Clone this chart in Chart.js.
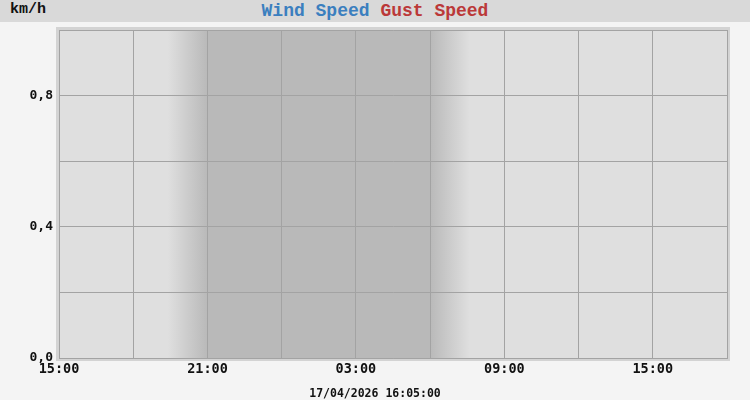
<!DOCTYPE html>
<html>
<head>
<meta charset="utf-8">
<script src="https://cdn.jsdelivr.net/npm/chart.js@4.4.1/dist/chart.umd.min.js"></script>
<style>
  html, body { margin: 0; padding: 0; background: #f4f4f4; }
  #wrap { position: relative; width: 750px; height: 400px; overflow: hidden; }
  #topbar { position: absolute; left: 0; top: 0; width: 750px; height: 22px; background: #d9d9d9; }
  #unit { position: absolute; left: 10px; top: 1px; font: bold 15px "Liberation Mono", "DejaVu Sans Mono", monospace; color: #111; line-height: 18px; }
  #title { position: absolute; left: 0; width: 750px; top: 1px; text-align: center; font: bold 18px "Liberation Mono", "DejaVu Sans Mono", monospace; line-height: 20px; }
  #footer { position: absolute; left: 0; width: 750px; top: 386px; text-align: center; font: bold 11.5px "DejaVu Sans Mono", monospace; color: #111; line-height: 14px; }
  #chartBox { position: absolute; left: 0; top: 0; width: 750px; height: 400px; }
</style>
</head>
<body>
<div id="wrap">
  <div id="topbar">
    <div id="unit">km/h</div>
    <div id="title"><span id="t1" style="color:#3b7fbf">Wind Speed</span> <span id="t2" style="color:#bb3838">Gust Speed</span></div>
  </div>
  <div id="chartBox"><canvas id="c"></canvas></div>
  <div id="footer">17/04/2026 16:05:00</div>
</div>
<script>
// ---- data ----
const seriesNames = ['Wind Speed', 'Gust Speed'];
const seriesColors = ['#3b7fbf', '#bb3838'];
const windSpeed = [];   // no readings shown in the reference
const gustSpeed = [];   // no readings shown in the reference
// x axis: hours since 15:00 on the first day
const xTickLabels = ['15:00','18:00','21:00','00:00','03:00','06:00','09:00','12:00','15:00','18:00'];
const xMin = 0, xMax = 27, xStep = 3;
const yMin = 0, yMax = 1.0, yStep = 0.2;
const yLabelled = [0, 0.4, 0.8];
// night (hours since 15:00): 21:00 -> 06:00, with twilight fades
const nightStart = 6, nightEnd = 15, twilight = 1.6;

const bgPlugin = {
  id: 'bgPlugin',
  beforeDraw(chart) {
    const {ctx, chartArea: a, scales: {x}} = chart;
    ctx.save();
    ctx.fillStyle = '#d3d3d3';
    ctx.fillRect(a.left - 3, a.top - 3, a.right - a.left + 6, a.bottom - a.top + 6);
    ctx.fillStyle = '#dfdfdf';
    ctx.fillRect(a.left, a.top, a.right - a.left, a.bottom - a.top);
    const light = 'rgba(185,185,185,0)', dark = 'rgba(185,185,185,1)';
    const p0 = x.getPixelForValue(nightStart - twilight);
    const p1 = x.getPixelForValue(nightStart);
    const p2 = x.getPixelForValue(nightEnd);
    const p3 = x.getPixelForValue(nightEnd + twilight);
    let g = ctx.createLinearGradient(p0, 0, p1, 0);
    g.addColorStop(0, light); g.addColorStop(1, dark);
    ctx.fillStyle = g; ctx.fillRect(p0, a.top, p1 - p0, a.bottom - a.top);
    ctx.fillStyle = dark; ctx.fillRect(p1, a.top, p2 - p1, a.bottom - a.top);
    g = ctx.createLinearGradient(p2, 0, p3, 0);
    g.addColorStop(0, dark); g.addColorStop(1, light);
    ctx.fillStyle = g; ctx.fillRect(p2, a.top, p3 - p2, a.bottom - a.top);
    ctx.restore();
  }
};

new Chart(document.getElementById('c'), {
  type: 'line',
  data: {
    datasets: [
      { label: seriesNames[0], data: windSpeed, borderColor: seriesColors[0], backgroundColor: seriesColors[0], pointRadius: 0, borderWidth: 2 },
      { label: seriesNames[1], data: gustSpeed, borderColor: seriesColors[1], backgroundColor: seriesColors[1], pointRadius: 0, borderWidth: 2 }
    ]
  },
  options: {
    responsive: true,
    maintainAspectRatio: false,
    animation: false,
    devicePixelRatio: 1,
    layout: { padding: { left: 0, top: 30, right: 23, bottom: 0 } },
    plugins: { legend: { display: false }, title: { display: false }, tooltip: { enabled: false } },
    scales: {
      x: {
        type: 'linear', min: xMin, max: xMax,
        afterFit(s) { s.height = 42; },
        grid: { color: '#a3a3a3', lineWidth: 1, drawTicks: false },
        border: { color: '#a3a3a3' },
        ticks: {
          stepSize: xStep, autoSkip: false, maxRotation: 0, padding: 3,
          color: '#111',
          font: { family: '"DejaVu Sans Mono", monospace', weight: 'bold', size: 13.5 },
          callback(v) {
            const i = Math.round(v / xStep);
            return (i % 2 === 0) ? xTickLabels[i] : '';
          }
        }
      },
      y: {
        min: yMin, max: yMax,
        afterFit(s) { s.width = 59; },
        grid: { color: '#a3a3a3', lineWidth: 1, drawTicks: false },
        border: { color: '#a3a3a3' },
        ticks: {
          stepSize: yStep, padding: 6, color: '#111',
          font: { family: '"DejaVu Sans Mono", monospace', weight: 'bold', size: 13 },
          callback(v) {
            const hit = yLabelled.some(t => Math.abs(t - v) < 1e-6);
            return hit ? v.toFixed(1).replace('.', ',') : '';
          }
        }
      }
    }
  },
  plugins: [bgPlugin]
});
</script>
</body>
</html>
